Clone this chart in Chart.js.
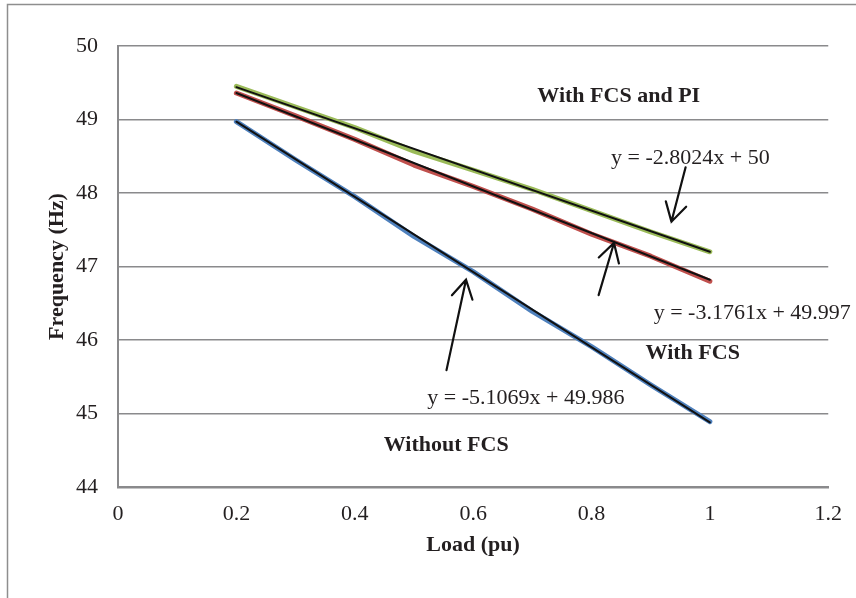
<!DOCTYPE html>
<html>
<head>
<meta charset="utf-8">
<script src="https://cdn.jsdelivr.net/npm/chart.js@4.4.1/dist/chart.umd.min.js"></script>
<style>
  html, body { margin: 0; padding: 0; background: #fff; }
  #wrap { width: 856px; height: 598px; }
</style>
</head>
<body>
<div id="wrap"><canvas id="freq-chart" width="856" height="598"></canvas></div>
<script>
// Load (pu) values where frequency was measured
const loadPu = [0.2, 0.3, 0.4, 0.5, 0.6, 0.7, 0.8, 0.9, 1.0];
// Frequency (Hz)
const freqWithFcsPi = [49.45, 49.17, 48.89, 48.57, 48.31, 48.05, 47.76, 47.47, 47.20];
const freqWithFcs = [49.36, 49.05, 48.73, 48.38, 48.09, 47.78, 47.44, 47.14, 46.80];
const freqWithoutFcs = [48.97, 48.45, 47.95, 47.41, 46.93, 46.39, 45.91, 45.39, 44.89];

// linear trend lines (black), end points
const trendX = [0.2, 1.0];
const trendWithFcsPi = [49.44, 47.20];
const trendWithFcs = [49.36, 46.82];
const trendWithoutFcs = [48.97, 44.88];

const xTicks = [0, 0.2, 0.4, 0.6, 0.8, 1, 1.2];
const yTicks = [44, 45, 46, 47, 48, 49, 50];

// text labels on the plot (data units)
const notes = [
  { text: "With FCS and PI", x: 0.846, y: 49.31, bold: true, align: "center" },
  { text: "y = -2.8024x + 50", x: 0.967, y: 48.48, bold: false, align: "center" },
  { text: "y = -3.1761x + 49.997", x: 0.905, y: 46.37, bold: false, align: "left" },
  { text: "With FCS", x: 0.971, y: 45.82, bold: true, align: "center" },
  { text: "y = -5.1069x + 49.986", x: 0.5225, y: 45.21, bold: false, align: "left" },
  { text: "Without FCS", x: 0.5545, y: 44.57, bold: true, align: "center" }
];
// arrows: tail -> tip (data units)
const arrows = [
  { x1: 0.959, y1: 48.35, x2: 0.935, y2: 47.61 },
  { x1: 0.812, y1: 46.61, x2: 0.838, y2: 47.32 },
  { x1: 0.555, y1: 45.59, x2: 0.588, y2: 46.82 }
];

const serif = "'Liberation Serif', 'Times New Roman', serif";
const textColor = "#231f20";
const gridColor = "#8a8a8c";

function pts(xs, ys) {
  return xs.map((x, i) => ({ x: x, y: ys[i] }));
}

const decorations = {
  id: "decorations",
  beforeDraw(chart) {
    const ctx = chart.ctx;
    ctx.save();
    ctx.strokeStyle = "#8e8e8e";
    ctx.lineWidth = 1.5;
    ctx.beginPath();
    ctx.moveTo(7.5, 598);
    ctx.lineTo(7.5, 4.5);
    ctx.lineTo(856, 4.5);
    ctx.stroke();
    ctx.restore();
  },
  afterDatasetsDraw(chart) {
    const ctx = chart.ctx;
    const xs = chart.scales.x;
    const ys = chart.scales.y;
    ctx.save();
    ctx.fillStyle = textColor;
    ctx.textBaseline = "middle";
    notes.forEach(n => {
      ctx.font = (n.bold ? "bold " : "") + "22px " + serif;
      ctx.textAlign = n.align;
      ctx.fillText(n.text, xs.getPixelForValue(n.x), ys.getPixelForValue(n.y));
    });
    ctx.strokeStyle = "#111";
    ctx.lineWidth = 2.2;
    ctx.lineCap = "round";
    arrows.forEach(a => {
      const tx = xs.getPixelForValue(a.x1), ty = ys.getPixelForValue(a.y1);
      const hx = xs.getPixelForValue(a.x2), hy = ys.getPixelForValue(a.y2);
      const ang = Math.atan2(ty - hy, tx - hx);
      const len = 21, spread = Math.PI / 6;
      ctx.beginPath();
      ctx.moveTo(tx, ty);
      ctx.lineTo(hx, hy);
      ctx.moveTo(hx + len * Math.cos(ang - spread), hy + len * Math.sin(ang - spread));
      ctx.lineTo(hx, hy);
      ctx.lineTo(hx + len * Math.cos(ang + spread), hy + len * Math.sin(ang + spread));
      ctx.stroke();
    });
    ctx.restore();
  }
};

const lineStyle = { pointRadius: 0, borderCapStyle: "round", borderJoinStyle: "round", tension: 0, fill: false };

new Chart(document.getElementById("freq-chart").getContext("2d"), {
  type: "scatter",
  data: {
    datasets: [
      { label: "Trend with FCS and PI", data: pts(trendX, trendWithFcsPi), borderColor: "#111", borderWidth: 2, showLine: true, order: 0, ...lineStyle },
      { label: "Trend with FCS", data: pts(trendX, trendWithFcs), borderColor: "#111", borderWidth: 2, showLine: true, order: 0, ...lineStyle },
      { label: "Trend without FCS", data: pts(trendX, trendWithoutFcs), borderColor: "#111", borderWidth: 2, showLine: true, order: 0, ...lineStyle },
      { label: "With FCS and PI", data: pts(loadPu, freqWithFcsPi), borderColor: "#9bbb59", borderWidth: 5, showLine: true, order: 1, ...lineStyle },
      { label: "With FCS", data: pts(loadPu, freqWithFcs), borderColor: "#c0504d", borderWidth: 5, showLine: true, order: 1, ...lineStyle },
      { label: "Without FCS", data: pts(loadPu, freqWithoutFcs), borderColor: "#4f81bd", borderWidth: 5, showLine: true, order: 1, ...lineStyle }
    ]
  },
  options: {
    responsive: false,
    animation: false,
    layout: { padding: { top: 46, right: 26, bottom: 0, left: 0 } },
    plugins: { legend: { display: false }, tooltip: { enabled: false } },
    scales: {
      x: {
        type: "linear",
        min: 0,
        max: 1.2,
        afterBuildTicks(scale) { scale.ticks = xTicks.map(v => ({ value: v })); },
        afterFit(scale) { scale.height = 111; },
        grid: { display: false, drawTicks: false },
        border: { display: true, color: gridColor, width: 2.5 },
        ticks: { color: textColor, padding: 14, maxRotation: 0, font: { family: serif, size: 22 }, callback: v => String(v) },
        title: { display: true, text: "Load (pu)", color: textColor, padding: { top: 0, bottom: 39 }, font: { family: serif, size: 22, weight: "bold" } }
      },
      y: {
        type: "linear",
        min: 44,
        max: 50,
        afterBuildTicks(scale) { scale.ticks = yTicks.map(v => ({ value: v })); },
        afterFit(scale) { scale.width = 118; },
        grid: { color: gridColor, lineWidth: 1.5, drawTicks: false },
        border: { display: true, color: gridColor, width: 2 },
        ticks: { color: textColor, padding: 20, font: { family: serif, size: 22 } },
        title: { display: true, text: "Frequency (Hz)", color: textColor, padding: { top: 44, bottom: 0 }, font: { family: serif, size: 22, weight: "bold" } }
      }
    }
  },
  plugins: [decorations]
});
</script>
</body>
</html>
